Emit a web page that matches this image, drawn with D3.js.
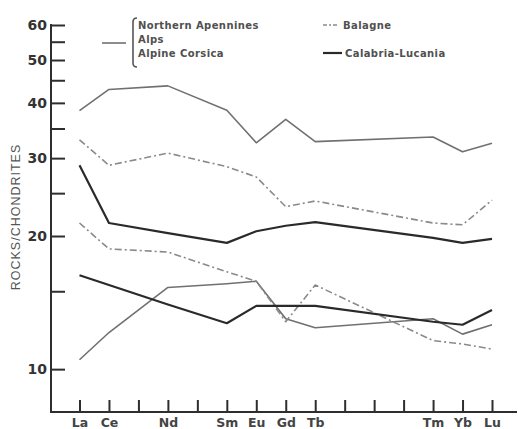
<!DOCTYPE html>
<html>
<head>
<meta charset="utf-8">
<script src="https://cdn.jsdelivr.net/npm/d3@7"></script>
<style>
  html, body { margin: 0; padding: 0; background: #ffffff; }
  svg { display: block; }
</style>
</head>
<body>
<script>
// Chondrite-normalised REE patterns (envelopes of each group)
const elements = ["La", "Ce", "Nd", "Sm", "Eu", "Gd", "Tb", "Tm", "Yb", "Lu"];
const atomicNumbers = [57, 58, 60, 62, 63, 64, 65, 69, 70, 71];
const tickAtomicNumbers = d3.range(57, 72);

const ophioliteUpper = [38.4, 42.9, 43.7, 38.5, 32.5, 36.7, 32.7, 33.5, 31.0, 32.4];
const ophioliteLower = [10.5, 12.1, 15.3, 15.6, 15.8, 13.0, 12.4, 13.0, 12.0, 12.6];
const balagneUpper   = [33.0, 28.9, 30.8, 28.7, 27.2, 23.3, 24.0, 21.4, 21.2, 24.1];
const balagneLower   = [21.4, 18.7, 18.4, 16.6, 15.8, 12.8, 15.5, 11.6, 11.4, 11.1];
const calabriaUpper  = [28.9, 21.4, 20.3, 19.3, 20.5, 21.1, 21.5, 19.8, 19.3, 19.7];
const calabriaLower  = [16.3, 15.5, 14.0, 12.7, 13.9, 13.9, 13.9, 12.8, 12.6, 13.6];

const yTickValues = [10, 15, 20, 25, 30, 35, 40, 45, 50, 55, 60];
const yLabelValues = [10, 20, 30, 40, 50, 60];

const groupNames = ["Northern Apennines", "Alps", "Alpine Corsica"];
const balagneName = "Balagne";
const calabriaName = "Calabria-Lucania";

const W = 518, H = 429;
const axisX = 51, axisY = 412;

const svg = d3.select("body").append("svg")
  .attr("width", W).attr("height", H);

const x = d3.scaleLinear().domain([57, 71]).range([79.5, 492]);
const y = d3.scaleLog().domain([8, 60]).range([axisY, 25]);

const ink = "#2e2e2e";

// Y axis: ticks point into the plot, labels only on the decades
const yAxis = d3.axisLeft(y)
  .tickValues(yTickValues)
  .tickSizeInner(-14)
  .tickSizeOuter(0)
  .tickPadding(4)
  .tickFormat(d => yLabelValues.includes(d) ? String(d) : "");

const gy = svg.append("g").attr("transform", `translate(${axisX},0)`).call(yAxis);
gy.select(".domain").remove();
gy.selectAll(".tick line").attr("stroke", ink).attr("stroke-width", 2);
gy.selectAll(".tick text")
  .attr("fill", "#333")
  .style("font-family", "'DejaVu Sans', sans-serif")
  .style("font-weight", "bold")
  .style("font-size", "14px");

// X axis: one tick per lanthanide, labels for the analysed elements
const xAxis = d3.axisBottom(x)
  .tickValues(tickAtomicNumbers)
  .tickSizeInner(-12)
  .tickSizeOuter(0)
  .tickPadding(6)
  .tickFormat(d => {
    const i = atomicNumbers.indexOf(d);
    return i >= 0 ? elements[i] : "";
  });

const gx = svg.append("g").attr("transform", `translate(0,${axisY})`).call(xAxis);
gx.select(".domain").remove();
gx.selectAll(".tick line").attr("stroke", ink).attr("stroke-width", 2);
gx.selectAll(".tick text")
  .attr("fill", "#444")
  .style("font-family", "'DejaVu Sans', sans-serif")
  .style("font-weight", "bold")
  .style("font-size", "12.5px");

// Axis lines
svg.append("line")
  .attr("x1", axisX).attr("x2", axisX)
  .attr("y1", y(60) - 1).attr("y2", axisY + 1)
  .attr("stroke", ink).attr("stroke-width", 2);
svg.append("line")
  .attr("x1", axisX - 1).attr("x2", 517)
  .attr("y1", axisY).attr("y2", axisY)
  .attr("stroke", ink).attr("stroke-width", 2);

// Y axis title
svg.append("text")
  .attr("transform", `translate(20,217) rotate(-90)`)
  .attr("text-anchor", "middle")
  .attr("fill", "#555")
  .style("font-family", "'Liberation Sans', Arial, sans-serif")
  .style("font-size", "12.5px")
  .style("letter-spacing", "1px")
  .text("ROCKS/CHONDRITES");

// Series lines
const line = d3.line()
  .x((d, i) => x(atomicNumbers[i]))
  .y(d => y(d));

const series = [
  { values: ophioliteUpper, color: "#707070", width: 1.6, dash: null },
  { values: ophioliteLower, color: "#707070", width: 1.6, dash: null },
  { values: balagneUpper,   color: "#8a8a8a", width: 1.6, dash: "7,3,2,3" },
  { values: balagneLower,   color: "#8a8a8a", width: 1.6, dash: "7,3,2,3" },
  { values: calabriaUpper,  color: "#2a2a2a", width: 2.2, dash: null },
  { values: calabriaLower,  color: "#2a2a2a", width: 2.2, dash: null }
];

svg.append("g").selectAll("path")
  .data(series)
  .join("path")
  .attr("d", d => line(d.values))
  .attr("fill", "none")
  .attr("stroke", d => d.color)
  .attr("stroke-width", d => d.width)
  .attr("stroke-dasharray", d => d.dash)
  .attr("stroke-linejoin", "round");

// Legend
const legendFont = g => g
  .attr("fill", "#505050")
  .style("font-family", "'DejaVu Sans', sans-serif")
  .style("font-weight", "bold")
  .style("font-size", "10px")
  .style("letter-spacing", "0.4px");

const legend = svg.append("g");

legend.append("line")
  .attr("x1", 102).attr("x2", 126).attr("y1", 43).attr("y2", 43)
  .attr("stroke", "#707070").attr("stroke-width", 1.6);

// bracket grouping the three ophiolite regions
legend.append("path")
  .attr("d", "M137,18 Q133,18 133,22 L133,63 Q133,67 137,67")
  .attr("fill", "none").attr("stroke", "#555").attr("stroke-width", 1.6);

legend.selectAll("text.group")
  .data(groupNames)
  .join("text")
  .attr("class", "group")
  .attr("x", 138)
  .attr("y", (d, i) => 29 + i * 14)
  .call(legendFont)
  .text(d => d);

legend.append("line")
  .attr("x1", 323).attr("x2", 339).attr("y1", 25).attr("y2", 25)
  .attr("stroke", "#8a8a8a").attr("stroke-width", 1.6)
  .attr("stroke-dasharray", "4,2,2,2");
legend.append("text")
  .attr("x", 343).attr("y", 29)
  .call(legendFont)
  .text(balagneName);

legend.append("line")
  .attr("x1", 323).attr("x2", 342).attr("y1", 53).attr("y2", 53)
  .attr("stroke", "#2a2a2a").attr("stroke-width", 2.2);
legend.append("text")
  .attr("x", 345).attr("y", 57)
  .call(legendFont)
  .text(calabriaName);
</script>
</body>
</html>
